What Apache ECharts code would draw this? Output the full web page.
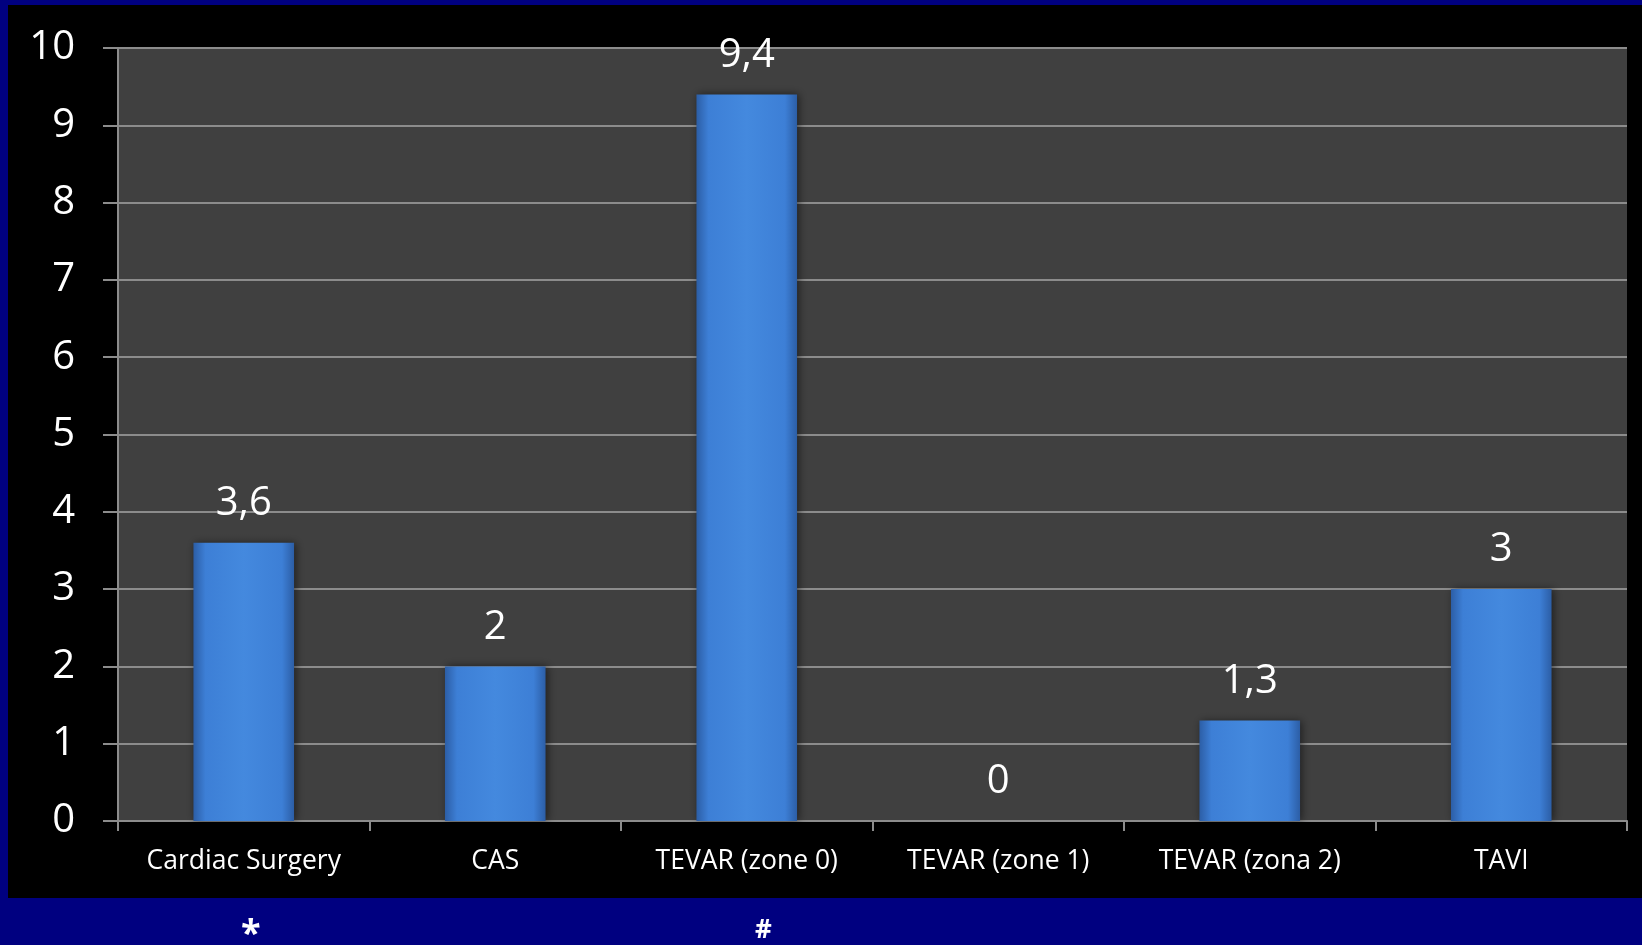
<!DOCTYPE html>
<html>
<head>
<meta charset="utf-8">
<style>
  html, body { margin: 0; padding: 0; background: #000080; }
  #chart { width: 1642px; height: 945px; }
</style>
<script src="https://cdn.jsdelivr.net/npm/echarts@6/dist/echarts.min.js"></script>
</head>
<body>
<div id="chart"></div>
<script>
// chart data
const categories = ['Cardiac Surgery', 'CAS', 'TEVAR (zone 0)', 'TEVAR (zone 1)', 'TEVAR (zona 2)', 'TAVI'];
const values = [3.6, 2, 9.4, 0, 1.3, 3];
// footnote marks under the chart
const footMarks = ['*', '#'];

const myChart = echarts.init(document.getElementById('chart'));

// bar fill, darker at the edges like the bevel in the slide
const barColor = new echarts.graphic.LinearGradient(0, 0, 1, 0, [
  { offset: 0, color: '#2c5ea6' },
  { offset: 0.12, color: '#3d7fd6' },
  { offset: 0.5, color: '#4489de' },
  { offset: 0.88, color: '#3d7fd6' },
  { offset: 1, color: '#2c5ea6' }
]);

const option = {
  backgroundColor: '#000080',
  textStyle: { fontFamily: 'Open Sans' },
  graphic: [
    {
      type: 'rect',
      z: -10,
      shape: { x: 8, y: 5, width: 1634, height: 893 },
      style: { fill: '#000000' }
    },
    {
      type: 'text',
      left: 241, top: 917,
      style: { text: footMarks[0], fill: '#ffffff', font: 'bold 36px "Open Sans"' }
    },
    {
      type: 'text',
      left: 755, top: 918,
      style: { text: footMarks[1], fill: '#ffffff', font: 'bold 26px "Open Sans"' }
    }
  ],
  grid: {
    left: 118,
    top: 48,
    right: 15,
    bottom: 124,
    show: true,
    backgroundColor: '#404040',
    borderWidth: 0
  },
  xAxis: {
    type: 'category',
    data: categories,
    axisLine: { lineStyle: { color: '#8c8c8c', width: 2 } },
    axisTick: { show: true, interval: 0, length: 10, lineStyle: { color: '#8c8c8c', width: 2 } },
    axisLabel: { interval: 0, color: '#ffffff', fontSize: 26.5, margin: 27, fontFamily: 'Open Sans' }
  },
  yAxis: {
    type: 'value',
    min: 0,
    max: 10,
    interval: 1,
    axisLine: { show: true, lineStyle: { color: '#8c8c8c', width: 2 } },
    axisTick: { show: true, length: 15, lineStyle: { color: '#8c8c8c', width: 2 } },
    splitLine: { lineStyle: { color: '#8c8c8c', width: 2 } },
    axisLabel: { color: '#ffffff', fontSize: 40, margin: 43, fontFamily: 'Open Sans' }
  },
  series: [
    {
      type: 'bar',
      data: values,
      barWidth: '40%',
      itemStyle: {
        color: barColor,
        shadowColor: 'rgba(0,0,0,0.5)',
        shadowBlur: 8,
        shadowOffsetX: 2
      },
      label: {
        show: true,
        position: 'top',
        distance: 19,
        color: '#ffffff',
        fontSize: 40,
        fontFamily: 'Open Sans',
        formatter: (p) => String(p.value).replace('.', ',')
      }
    }
  ]
};

myChart.setOption(option);
</script>
</body>
</html>
